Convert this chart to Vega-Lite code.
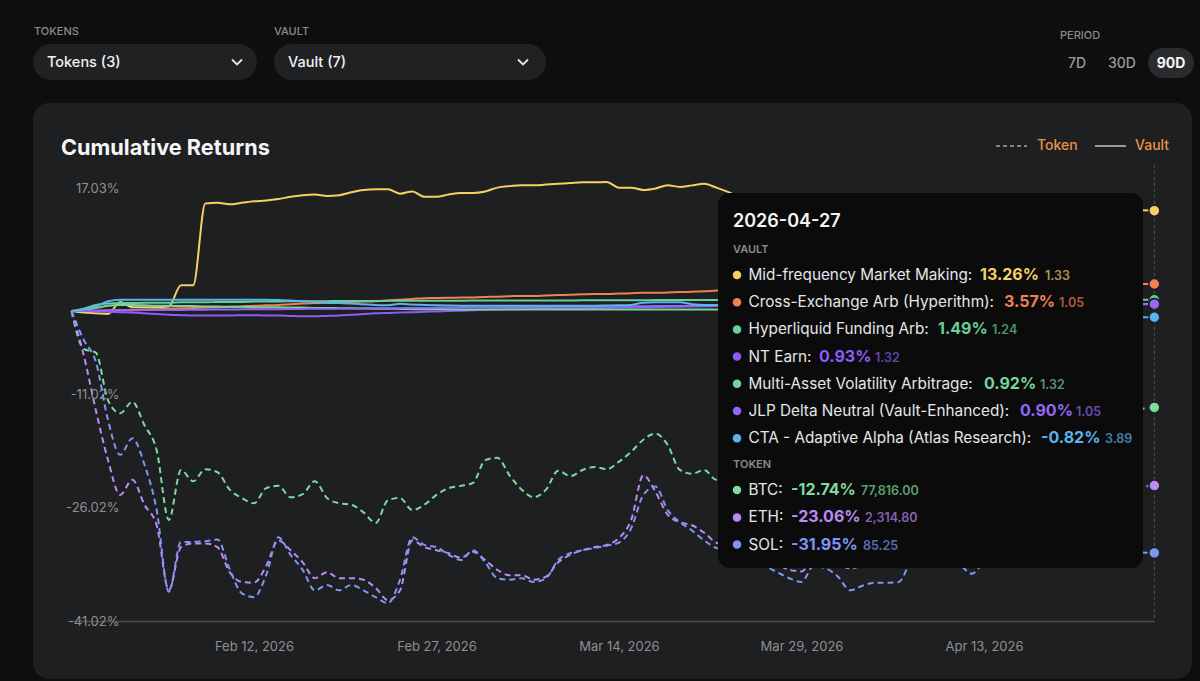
{
  "$schema": "https://vega.github.io/schema/vega-lite/v6.json",
  "width": 1200,
  "height": 681,
  "autosize": "none",
  "padding": 0,
  "background": "#0e0e0f",
  "config": {"view": {"stroke": null}, "font": "Inter"},
  "datasets": {
    "series": [
      {"date":"2026-01-28","MM":0,"CEA":0,"HFA":0,"NT":0,"MAVA":0,"JLP":0,"CTA":0,"BTC":0,"ETH":0,"SOL":0},
      {"date":"2026-01-29","MM":-0.2,"CEA":0.02,"HFA":0.3,"NT":0,"MAVA":0.1,"JLP":0.02,"CTA":0.2,"BTC":-5.0,"ETH":-5.8,"SOL":-3.8},
      {"date":"2026-01-30","MM":-0.3,"CEA":0.05,"HFA":0.8,"NT":-0.05,"MAVA":0.4,"JLP":0.05,"CTA":0.6,"BTC":-5.5,"ETH":-13.1,"SOL":-6.7},
      {"date":"2026-01-31","MM":-0.4,"CEA":0.08,"HFA":1.0,"NT":-0.1,"MAVA":0.7,"JLP":0.08,"CTA":1.3,"BTC":-11.8,"ETH":-19.7,"SOL":-14.4},
      {"date":"2026-02-01","MM":1.2,"CEA":0.1,"HFA":1.05,"NT":-0.15,"MAVA":0.8,"JLP":0.1,"CTA":1.5,"BTC":-13.5,"ETH":-24.3,"SOL":-19.0},
      {"date":"2026-02-02","MM":0.5,"CEA":0.12,"HFA":1.05,"NT":-0.2,"MAVA":0.8,"JLP":0.1,"CTA":1.5,"BTC":-12.0,"ETH":-22.3,"SOL":-16.8},
      {"date":"2026-02-03","MM":0.5,"CEA":0.2,"HFA":1.1,"NT":-0.3,"MAVA":0.75,"JLP":0.12,"CTA":1.5,"BTC":-15.1,"ETH":-25.6,"SOL":-20.3},
      {"date":"2026-02-04","MM":0.5,"CEA":0.25,"HFA":1.1,"NT":-0.4,"MAVA":0.7,"JLP":0.13,"CTA":1.5,"BTC":-18.4,"ETH":-28.3,"SOL":-26.3},
      {"date":"2026-02-05","MM":0.6,"CEA":0.3,"HFA":1.1,"NT":-0.5,"MAVA":0.7,"JLP":0.15,"CTA":1.5,"BTC":-27.6,"ETH":-36.9,"SOL":-37.1},
      {"date":"2026-02-06","MM":3.4,"CEA":0.35,"HFA":1.15,"NT":-0.55,"MAVA":0.65,"JLP":0.15,"CTA":1.5,"BTC":-21.0,"ETH":-31.2,"SOL":-30.5},
      {"date":"2026-02-07","MM":3.4,"CEA":0.4,"HFA":1.15,"NT":-0.6,"MAVA":0.65,"JLP":0.17,"CTA":1.5,"BTC":-22.5,"ETH":-30.7,"SOL":-30.5},
      {"date":"2026-02-08","MM":14.2,"CEA":0.45,"HFA":1.15,"NT":-0.6,"MAVA":0.6,"JLP":0.18,"CTA":1.5,"BTC":-20.9,"ETH":-30.7,"SOL":-30.4},
      {"date":"2026-02-09","MM":14.3,"CEA":0.5,"HFA":1.2,"NT":-0.6,"MAVA":0.6,"JLP":0.2,"CTA":1.5,"BTC":-21.3,"ETH":-31.2,"SOL":-30.2},
      {"date":"2026-02-10","MM":14.1,"CEA":0.55,"HFA":1.2,"NT":-0.6,"MAVA":0.55,"JLP":0.2,"CTA":1.5,"BTC":-23.6,"ETH":-34.5,"SOL":-34.1},
      {"date":"2026-02-11","MM":14.3,"CEA":0.6,"HFA":1.2,"NT":-0.55,"MAVA":0.55,"JLP":0.22,"CTA":1.5,"BTC":-24.7,"ETH":-35.8,"SOL":-37.3},
      {"date":"2026-02-12","MM":14.5,"CEA":0.7,"HFA":1.25,"NT":-0.55,"MAVA":0.5,"JLP":0.23,"CTA":1.5,"BTC":-25.4,"ETH":-35.9,"SOL":-37.8},
      {"date":"2026-02-13","MM":14.6,"CEA":0.75,"HFA":1.25,"NT":-0.6,"MAVA":0.5,"JLP":0.25,"CTA":1.5,"BTC":-23.4,"ETH":-33.7,"SOL":-34.9},
      {"date":"2026-02-14","MM":14.8,"CEA":0.8,"HFA":1.25,"NT":-0.6,"MAVA":0.5,"JLP":0.25,"CTA":1.45,"BTC":-23.1,"ETH":-30.3,"SOL":-29.9},
      {"date":"2026-02-15","MM":15.1,"CEA":0.9,"HFA":1.3,"NT":-0.65,"MAVA":0.45,"JLP":0.27,"CTA":1.4,"BTC":-24.6,"ETH":-31.6,"SOL":-32.2},
      {"date":"2026-02-16","MM":15.3,"CEA":1.0,"HFA":1.3,"NT":-0.7,"MAVA":0.45,"JLP":0.28,"CTA":1.3,"BTC":-24.2,"ETH":-33.2,"SOL":-34.2},
      {"date":"2026-02-17","MM":15.4,"CEA":1.05,"HFA":1.3,"NT":-0.7,"MAVA":0.4,"JLP":0.3,"CTA":1.2,"BTC":-22.5,"ETH":-35.3,"SOL":-36.9},
      {"date":"2026-02-18","MM":15.2,"CEA":1.1,"HFA":1.3,"NT":-0.65,"MAVA":0.4,"JLP":0.3,"CTA":1.1,"BTC":-24.7,"ETH":-34.5,"SOL":-36.2},
      {"date":"2026-02-19","MM":15.3,"CEA":1.15,"HFA":1.32,"NT":-0.6,"MAVA":0.38,"JLP":0.32,"CTA":1.05,"BTC":-25.4,"ETH":-35.3,"SOL":-36.9},
      {"date":"2026-02-20","MM":15.7,"CEA":1.2,"HFA":1.32,"NT":-0.5,"MAVA":0.35,"JLP":0.33,"CTA":1.0,"BTC":-25.6,"ETH":-35.3,"SOL":-36.2},
      {"date":"2026-02-21","MM":16.0,"CEA":1.25,"HFA":1.33,"NT":-0.4,"MAVA":0.33,"JLP":0.35,"CTA":0.9,"BTC":-26.6,"ETH":-35.5,"SOL":-36.9},
      {"date":"2026-02-22","MM":16.1,"CEA":1.3,"HFA":1.33,"NT":-0.3,"MAVA":0.3,"JLP":0.35,"CTA":0.8,"BTC":-28.0,"ETH":-36.6,"SOL":-37.8},
      {"date":"2026-02-23","MM":16.1,"CEA":1.4,"HFA":1.35,"NT":-0.25,"MAVA":0.3,"JLP":0.37,"CTA":0.75,"BTC":-25.0,"ETH":-38.2,"SOL":-38.6},
      {"date":"2026-02-24","MM":15.5,"CEA":1.5,"HFA":1.35,"NT":-0.2,"MAVA":0.28,"JLP":0.38,"CTA":0.95,"BTC":-24.7,"ETH":-36.9,"SOL":-35.5},
      {"date":"2026-02-25","MM":15.8,"CEA":1.6,"HFA":1.35,"NT":-0.15,"MAVA":0.25,"JLP":0.4,"CTA":0.85,"BTC":-26.3,"ETH":-30.3,"SOL":-29.9},
      {"date":"2026-02-26","MM":15.1,"CEA":1.7,"HFA":1.36,"NT":-0.1,"MAVA":0.25,"JLP":0.4,"CTA":0.8,"BTC":-25.6,"ETH":-31.2,"SOL":-30.9},
      {"date":"2026-02-27","MM":15.1,"CEA":1.72,"HFA":1.36,"NT":-0.05,"MAVA":0.22,"JLP":0.42,"CTA":0.75,"BTC":-24.3,"ETH":-31.6,"SOL":-31.2},
      {"date":"2026-02-28","MM":15.4,"CEA":1.75,"HFA":1.37,"NT":0,"MAVA":0.22,"JLP":0.43,"CTA":0.72,"BTC":-23.4,"ETH":-32.0,"SOL":-32.2},
      {"date":"2026-03-01","MM":15.6,"CEA":1.78,"HFA":1.37,"NT":0.05,"MAVA":0.2,"JLP":0.45,"CTA":0.7,"BTC":-23.1,"ETH":-32.6,"SOL":-32.9},
      {"date":"2026-03-02","MM":15.6,"CEA":1.8,"HFA":1.38,"NT":0.1,"MAVA":0.2,"JLP":0.45,"CTA":0.7,"BTC":-22.7,"ETH":-31.8,"SOL":-31.6},
      {"date":"2026-03-03","MM":15.8,"CEA":1.85,"HFA":1.38,"NT":0.15,"MAVA":0.2,"JLP":0.47,"CTA":0.7,"BTC":-19.7,"ETH":-32.9,"SOL":-33.2},
      {"date":"2026-03-04","MM":16.3,"CEA":1.9,"HFA":1.38,"NT":0.2,"MAVA":0.2,"JLP":0.48,"CTA":0.7,"BTC":-19.4,"ETH":-34.2,"SOL":-35.3},
      {"date":"2026-03-05","MM":16.5,"CEA":1.95,"HFA":1.39,"NT":0.22,"MAVA":0.2,"JLP":0.5,"CTA":0.7,"BTC":-21.7,"ETH":-34.9,"SOL":-35.5},
      {"date":"2026-03-06","MM":16.6,"CEA":2.0,"HFA":1.39,"NT":0.25,"MAVA":0.2,"JLP":0.5,"CTA":0.7,"BTC":-23.6,"ETH":-34.9,"SOL":-35.3},
      {"date":"2026-03-07","MM":16.6,"CEA":2.0,"HFA":1.4,"NT":0.28,"MAVA":0.2,"JLP":0.52,"CTA":0.7,"BTC":-24.6,"ETH":-35.5,"SOL":-35.8},
      {"date":"2026-03-08","MM":16.7,"CEA":2.05,"HFA":1.4,"NT":0.3,"MAVA":0.2,"JLP":0.53,"CTA":0.7,"BTC":-23.6,"ETH":-35.1,"SOL":-35.3},
      {"date":"2026-03-09","MM":16.8,"CEA":2.1,"HFA":1.4,"NT":0.32,"MAVA":0.2,"JLP":0.55,"CTA":0.7,"BTC":-21.1,"ETH":-33.2,"SOL":-32.9},
      {"date":"2026-03-10","MM":16.9,"CEA":2.15,"HFA":1.4,"NT":0.35,"MAVA":0.2,"JLP":0.55,"CTA":0.7,"BTC":-21.8,"ETH":-32.2,"SOL":-32.0},
      {"date":"2026-03-11","MM":17.0,"CEA":2.2,"HFA":1.41,"NT":0.38,"MAVA":0.2,"JLP":0.57,"CTA":0.7,"BTC":-21.0,"ETH":-31.6,"SOL":-31.6},
      {"date":"2026-03-12","MM":17.0,"CEA":2.25,"HFA":1.41,"NT":0.4,"MAVA":0.2,"JLP":0.58,"CTA":0.7,"BTC":-20.6,"ETH":-31.2,"SOL":-31.3},
      {"date":"2026-03-13","MM":17.03,"CEA":2.25,"HFA":1.42,"NT":0.42,"MAVA":0.2,"JLP":0.6,"CTA":0.72,"BTC":-20.9,"ETH":-30.9,"SOL":-31.0},
      {"date":"2026-03-14","MM":16.3,"CEA":2.3,"HFA":1.42,"NT":0.45,"MAVA":0.2,"JLP":0.6,"CTA":0.75,"BTC":-19.9,"ETH":-30.0,"SOL":-30.6},
      {"date":"2026-03-15","MM":16.3,"CEA":2.35,"HFA":1.43,"NT":0.48,"MAVA":0.2,"JLP":0.62,"CTA":0.8,"BTC":-18.6,"ETH":-27.6,"SOL":-28.7},
      {"date":"2026-03-16","MM":16.0,"CEA":2.4,"HFA":1.43,"NT":0.5,"MAVA":0.2,"JLP":0.63,"CTA":1.1,"BTC":-17.0,"ETH":-21.7,"SOL":-24.3},
      {"date":"2026-03-17","MM":16.2,"CEA":2.4,"HFA":1.44,"NT":0.52,"MAVA":0.2,"JLP":0.65,"CTA":1.15,"BTC":-16.2,"ETH":-23.9,"SOL":-23.2},
      {"date":"2026-03-18","MM":16.6,"CEA":2.45,"HFA":1.44,"NT":0.55,"MAVA":0.2,"JLP":0.65,"CTA":1.15,"BTC":-17.7,"ETH":-26.9,"SOL":-26.3},
      {"date":"2026-03-19","MM":16.4,"CEA":2.5,"HFA":1.45,"NT":0.57,"MAVA":0.2,"JLP":0.67,"CTA":1.15,"BTC":-21.0,"ETH":-27.9,"SOL":-27.9},
      {"date":"2026-03-20","MM":16.6,"CEA":2.55,"HFA":1.45,"NT":0.6,"MAVA":0.2,"JLP":0.68,"CTA":0.9,"BTC":-21.5,"ETH":-28.3,"SOL":-29.0},
      {"date":"2026-03-21","MM":16.8,"CEA":2.6,"HFA":1.45,"NT":0.62,"MAVA":0.2,"JLP":0.7,"CTA":0.8,"BTC":-21.0,"ETH":-29.3,"SOL":-30.3},
      {"date":"2026-03-22","MM":16.3,"CEA":2.7,"HFA":1.46,"NT":0.65,"MAVA":0.2,"JLP":0.7,"CTA":0.8,"BTC":-22.3,"ETH":-30.6,"SOL":-31.3},
      {"date":"2026-03-23","MM":15.7,"CEA":2.75,"HFA":1.46,"NT":0.67,"MAVA":0.22,"JLP":0.72,"CTA":0.75,"BTC":-22.0,"ETH":-31.0,"SOL":-31.6},
      {"date":"2026-03-24","MM":15.0,"CEA":2.8,"HFA":1.46,"NT":0.7,"MAVA":0.25,"JLP":0.72,"CTA":0.7,"BTC":-21.5,"ETH":-31.5,"SOL":-32.2},
      {"date":"2026-03-25","MM":14.8,"CEA":2.8,"HFA":1.46,"NT":0.7,"MAVA":0.28,"JLP":0.73,"CTA":0.6,"BTC":-21.0,"ETH":-32.0,"SOL":-32.9},
      {"date":"2026-03-26","MM":14.9,"CEA":2.85,"HFA":1.47,"NT":0.72,"MAVA":0.3,"JLP":0.74,"CTA":0.5,"BTC":-20.5,"ETH":-32.6,"SOL":-33.7},
      {"date":"2026-03-27","MM":14.7,"CEA":2.9,"HFA":1.47,"NT":0.73,"MAVA":0.33,"JLP":0.75,"CTA":0.4,"BTC":-20.8,"ETH":-33.4,"SOL":-34.5},
      {"date":"2026-03-28","MM":14.5,"CEA":2.9,"HFA":1.47,"NT":0.74,"MAVA":0.36,"JLP":0.76,"CTA":0.3,"BTC":-21.2,"ETH":-34.2,"SOL":-35.3},
      {"date":"2026-03-29","MM":14.6,"CEA":2.95,"HFA":1.47,"NT":0.75,"MAVA":0.4,"JLP":0.77,"CTA":0.2,"BTC":-20.6,"ETH":-34.4,"SOL":-35.8},
      {"date":"2026-03-30","MM":14.8,"CEA":3.0,"HFA":1.47,"NT":0.76,"MAVA":0.43,"JLP":0.78,"CTA":0.1,"BTC":-19.8,"ETH":-32.8,"SOL":-33.7},
      {"date":"2026-03-31","MM":14.6,"CEA":3.0,"HFA":1.47,"NT":0.77,"MAVA":0.46,"JLP":0.78,"CTA":0.0,"BTC":-19.5,"ETH":-32.9,"SOL":-34.0},
      {"date":"2026-04-01","MM":14.3,"CEA":3.05,"HFA":1.48,"NT":0.78,"MAVA":0.5,"JLP":0.79,"CTA":-0.1,"BTC":-19.9,"ETH":-33.4,"SOL":-35.1},
      {"date":"2026-04-02","MM":14.1,"CEA":3.1,"HFA":1.48,"NT":0.79,"MAVA":0.53,"JLP":0.8,"CTA":-0.2,"BTC":-20.4,"ETH":-34.0,"SOL":-36.9},
      {"date":"2026-04-03","MM":14.3,"CEA":3.1,"HFA":1.48,"NT":0.8,"MAVA":0.56,"JLP":0.8,"CTA":-0.25,"BTC":-19.7,"ETH":-33.6,"SOL":-36.3},
      {"date":"2026-04-04","MM":14.5,"CEA":3.15,"HFA":1.48,"NT":0.81,"MAVA":0.6,"JLP":0.81,"CTA":-0.3,"BTC":-19.0,"ETH":-33.0,"SOL":-35.9},
      {"date":"2026-04-05","MM":14.6,"CEA":3.2,"HFA":1.48,"NT":0.82,"MAVA":0.63,"JLP":0.82,"CTA":-0.35,"BTC":-18.4,"ETH":-32.5,"SOL":-35.9},
      {"date":"2026-04-06","MM":14.4,"CEA":3.2,"HFA":1.48,"NT":0.83,"MAVA":0.66,"JLP":0.83,"CTA":-0.4,"BTC":-18.8,"ETH":-32.2,"SOL":-35.8},
      {"date":"2026-04-07","MM":14.2,"CEA":3.25,"HFA":1.48,"NT":0.84,"MAVA":0.7,"JLP":0.84,"CTA":-0.45,"BTC":-17.9,"ETH":-30.5,"SOL":-33.3},
      {"date":"2026-04-08","MM":14.0,"CEA":3.3,"HFA":1.48,"NT":0.85,"MAVA":0.72,"JLP":0.85,"CTA":-0.5,"BTC":-17.2,"ETH":-29.8,"SOL":-32.9},
      {"date":"2026-04-09","MM":14.2,"CEA":3.3,"HFA":1.48,"NT":0.86,"MAVA":0.74,"JLP":0.85,"CTA":-0.55,"BTC":-16.8,"ETH":-29.4,"SOL":-32.2},
      {"date":"2026-04-10","MM":14.4,"CEA":3.35,"HFA":1.49,"NT":0.86,"MAVA":0.76,"JLP":0.86,"CTA":-0.6,"BTC":-17.3,"ETH":-29.9,"SOL":-32.6},
      {"date":"2026-04-11","MM":14.3,"CEA":3.35,"HFA":1.49,"NT":0.87,"MAVA":0.78,"JLP":0.86,"CTA":-0.62,"BTC":-17.9,"ETH":-30.6,"SOL":-33.5},
      {"date":"2026-04-12","MM":14.1,"CEA":3.4,"HFA":1.49,"NT":0.88,"MAVA":0.8,"JLP":0.87,"CTA":-0.65,"BTC":-18.3,"ETH":-31.5,"SOL":-34.7},
      {"date":"2026-04-13","MM":13.9,"CEA":3.4,"HFA":1.49,"NT":0.88,"MAVA":0.82,"JLP":0.87,"CTA":-0.67,"BTC":-17.6,"ETH":-30.2,"SOL":-33.2},
      {"date":"2026-04-14","MM":14.0,"CEA":3.42,"HFA":1.49,"NT":0.89,"MAVA":0.83,"JLP":0.88,"CTA":-0.7,"BTC":-16.9,"ETH":-29.1,"SOL":-32.6},
      {"date":"2026-04-15","MM":14.2,"CEA":3.45,"HFA":1.49,"NT":0.89,"MAVA":0.84,"JLP":0.88,"CTA":-0.72,"BTC":-16.2,"ETH":-28.4,"SOL":-32.4},
      {"date":"2026-04-16","MM":14.0,"CEA":3.45,"HFA":1.49,"NT":0.9,"MAVA":0.85,"JLP":0.88,"CTA":-0.73,"BTC":-15.8,"ETH":-27.8,"SOL":-32.8},
      {"date":"2026-04-17","MM":13.8,"CEA":3.48,"HFA":1.49,"NT":0.9,"MAVA":0.86,"JLP":0.89,"CTA":-0.75,"BTC":-15.4,"ETH":-27.0,"SOL":-33.1},
      {"date":"2026-04-18","MM":13.9,"CEA":3.5,"HFA":1.49,"NT":0.9,"MAVA":0.87,"JLP":0.89,"CTA":-0.76,"BTC":-15.0,"ETH":-26.4,"SOL":-32.7},
      {"date":"2026-04-19","MM":14.0,"CEA":3.5,"HFA":1.49,"NT":0.91,"MAVA":0.88,"JLP":0.89,"CTA":-0.77,"BTC":-14.6,"ETH":-25.9,"SOL":-32.3},
      {"date":"2026-04-20","MM":13.8,"CEA":3.52,"HFA":1.49,"NT":0.91,"MAVA":0.88,"JLP":0.9,"CTA":-0.78,"BTC":-14.9,"ETH":-25.5,"SOL":-32.6},
      {"date":"2026-04-21","MM":13.6,"CEA":3.53,"HFA":1.49,"NT":0.92,"MAVA":0.89,"JLP":0.9,"CTA":-0.79,"BTC":-14.2,"ETH":-24.8,"SOL":-32.9},
      {"date":"2026-04-22","MM":13.7,"CEA":3.54,"HFA":1.49,"NT":0.92,"MAVA":0.9,"JLP":0.9,"CTA":-0.8,"BTC":-13.8,"ETH":-24.3,"SOL":-32.5},
      {"date":"2026-04-23","MM":13.5,"CEA":3.55,"HFA":1.49,"NT":0.92,"MAVA":0.9,"JLP":0.9,"CTA":-0.8,"BTC":-13.5,"ETH":-24.0,"SOL":-32.2},
      {"date":"2026-04-24","MM":13.4,"CEA":3.56,"HFA":1.49,"NT":0.93,"MAVA":0.91,"JLP":0.9,"CTA":-0.81,"BTC":-13.2,"ETH":-23.6,"SOL":-32.0},
      {"date":"2026-04-25","MM":13.3,"CEA":3.56,"HFA":1.49,"NT":0.93,"MAVA":0.91,"JLP":0.9,"CTA":-0.81,"BTC":-13.0,"ETH":-23.4,"SOL":-31.8},
      {"date":"2026-04-26","MM":13.3,"CEA":3.57,"HFA":1.49,"NT":0.93,"MAVA":0.92,"JLP":0.9,"CTA":-0.82,"BTC":-12.9,"ETH":-23.2,"SOL":-31.9},
      {"date":"2026-04-27","MM":13.26,"CEA":3.57,"HFA":1.49,"NT":0.93,"MAVA":0.92,"JLP":0.9,"CTA":-0.82,"BTC":-12.74,"ETH":-23.06,"SOL":-31.95}
    ],
    "tip": [
      {"s":"MM","label":"Mid-frequency Market Making:","val":"13.26%","sub":"1.33","row":4.76,"at_v":"2026-04-12T16:06:00Z","at_s":"2026-04-18T00:20:00Z"},
      {"s":"CEA","label":"Cross-Exchange Arb (Hyperithm):","val":"3.57%","sub":"1.05","row":1.16,"at_v":"2026-04-14T15:27:00Z","at_s":"2026-04-19T03:56:00Z"},
      {"s":"HFA","label":"Hyperliquid Funding Arb:","val":"1.49%","sub":"1.24","row":-2.43,"at_v":"2026-04-09T05:15:00Z","at_s":"2026-04-13T15:47:00Z"},
      {"s":"NT","label":"NT Earn:","val":"0.93%","sub":"1.32","row":-6.02,"at_v":"2026-03-30T10:31:00Z","at_s":"2026-04-04T00:59:00Z"},
      {"s":"MAVA","label":"Multi-Asset Volatility Arbitrage:","val":"0.92%","sub":"1.32","row":-9.62,"at_v":"2026-04-13T00:00:00Z","at_s":"2026-04-17T14:28:00Z"},
      {"s":"JLP","label":"JLP Delta Neutral (Vault-Enhanced):","val":"0.90%","sub":"1.05","row":-13.21,"at_v":"2026-04-15T23:01:00Z","at_s":"2026-04-20T13:29:00Z"},
      {"s":"CTA","label":"CTA - Adaptive Alpha (Atlas Research):","val":"-0.82%","sub":"3.89","row":-16.81,"at_v":"2026-04-17T16:26:00Z","at_s":"2026-04-22T22:41:00Z"},
      {"s":"BTC","label":"BTC:","val":"-12.74%","sub":"77,816.00","row":-23.65,"at_v":"2026-03-28T03:17:00Z","at_s":"2026-04-02T21:22:00Z"},
      {"s":"ETH","label":"ETH:","val":"-23.06%","sub":"2,314.80","row":-27.27,"at_v":"2026-03-28T03:17:00Z","at_s":"2026-04-03T05:15:00Z"},
      {"s":"SOL","label":"SOL:","val":"-31.95%","sub":"85.25","row":-30.86,"at_v":"2026-03-28T03:17:00Z","at_s":"2026-04-03T01:19:00Z"}
    ]
  },
  "layer": [
    {
      "data": {"values": [{"t": "2026-01-24T20:04:00Z", "t2": "2026-04-30T02:14:00Z", "v": 27.48, "v2": -48.62}]},
      "mark": {"type": "rect", "fill": "#1e1f21", "cornerRadius": 16},
      "encoding": {
        "x": {"field": "t", "type": "temporal", "title": null,
          "scale": {"type": "utc", "nice": false, "domain": [{"year": 2026, "month": 1, "date": 22, "hours": 2, "minutes": 57, "utc": true}, {"year": 2026, "month": 4, "date": 30, "hours": 18, "minutes": 3, "utc": true}]},
          "axis": {"orient": "bottom", "offset": -59, "zindex": 1, "domain": false, "ticks": false, "tickSize": 0, "grid": false, "labelPadding": 18, "labelColor": "#8e8f92", "labelFont": "Inter", "labelFontSize": 13, "labelOverlap": false, "labelFlush": false,
            "values": [{"year": 2026, "month": 2, "date": 12, "utc": true}, {"year": 2026, "month": 2, "date": 27, "utc": true}, {"year": 2026, "month": 3, "date": 14, "utc": true}, {"year": 2026, "month": 3, "date": 29, "utc": true}, {"year": 2026, "month": 4, "date": 13, "utc": true}],
            "labelExpr": "utcFormat(datum.value, '%b %d, %Y')"}},
        "x2": {"field": "t2"},
        "y": {"field": "v", "type": "quantitative", "title": null,
          "scale": {"domain": [-48.88, 41.09], "nice": false, "zero": false},
          "axis": {"orient": "left", "offset": -125, "zindex": 1, "domain": false, "ticks": false, "tickSize": 0, "grid": false, "labelPadding": 6, "labelAlign": "right", "labelColor": "#8e8f92", "labelFont": "Inter", "labelFontSize": 13, "labelOverlap": false, "labelFlush": false,
            "values": [17.03, -11.02, -26.02, -41.02],
            "labelBaseline": {"condition": {"test": "datum.value > 17", "value": "top"}, "value": "middle"},
            "labelExpr": "(datum.value < 0 ? '-' : '') + format(abs(datum.value), '.2f') + '%'"}},
        "y2": {"field": "v2"}
      }
    },
    {
      "data": {"values": [
        {"t": "2026-01-24T20:04:00Z", "t2": "2026-02-12T05:56:00Z", "v": 35.27, "v2": 30.52},
        {"t": "2026-02-13T15:27:00Z", "t2": "2026-03-08T00:00:00Z", "v": 35.27, "v2": 30.52}
      ]},
      "mark": {"type": "rect", "fill": "#202123", "cornerRadius": 18},
      "encoding": {"x": {"field": "t", "type": "temporal", "title": null}, "x2": {"field": "t2"}, "y": {"field": "v", "type": "quantitative", "title": null}, "y2": {"field": "v2"}}
    },
    {
      "data": {"values": [{"t": "2026-04-26T11:28:00Z", "t2": "2026-04-30T06:12:00Z", "v": 34.74, "v2": 30.78}]},
      "mark": {"type": "rect", "fill": "#2a2b2e", "cornerRadius": 15},
      "encoding": {"x": {"field": "t", "type": "temporal", "title": null}, "x2": {"field": "t2"}, "y": {"field": "v", "type": "quantitative", "title": null}, "y2": {"field": "v2"}}
    },
    {
      "data": {"values": [{"t": "2026-01-28", "t2": "2026-04-27", "v": -41.02}]},
      "mark": {"type": "rule", "color": "#4b4c4f", "strokeWidth": 1.5},
      "encoding": {"x": {"field": "t", "type": "temporal", "title": null}, "x2": {"field": "t2"}, "y": {"field": "v", "type": "quantitative", "title": null}}
    },
    {
      "data": {"values": [{"t": "2026-04-27", "v": 19.3, "v2": -41.02}]},
      "mark": {"type": "rule", "color": "#55565a", "strokeWidth": 1, "strokeDash": [3, 3]},
      "encoding": {"x": {"field": "t", "type": "temporal", "title": null}, "y": {"field": "v", "type": "quantitative", "title": null}, "y2": {"field": "v2"}}
    },
    {
      "data": {"name": "series"},
      "transform": [{"fold": ["MM", "CEA", "HFA", "NT", "MAVA", "JLP", "CTA"], "as": ["s", "v"]}],
      "mark": {"type": "line", "strokeWidth": 2, "interpolate": "monotone"},
      "encoding": {
        "x": {"field": "date", "type": "temporal", "title": null},
        "y": {"field": "v", "type": "quantitative", "title": null},
        "color": {"field": "s", "type": "nominal", "legend": null,
          "scale": {"domain": ["MM", "CEA", "HFA", "NT", "MAVA", "JLP", "CTA", "BTC", "ETH", "SOL"],
                    "range": ["#f3d163", "#ef8250", "#67cf97", "#8b5cf6", "#79d39d", "#9467f6", "#5ab4ef", "#7edb9c", "#bb8af5", "#7d97f4"]}}
      }
    },
    {
      "data": {"name": "series"},
      "transform": [{"fold": ["BTC", "ETH", "SOL"], "as": ["s", "v"]}],
      "mark": {"type": "line", "strokeWidth": 2, "strokeDash": [6, 4], "interpolate": "monotone"},
      "encoding": {
        "x": {"field": "date", "type": "temporal", "title": null},
        "y": {"field": "v", "type": "quantitative", "title": null},
        "color": {"field": "s", "type": "nominal", "legend": null}
      }
    },
    {
      "data": {"name": "series"},
      "transform": [
        {"fold": ["MM", "CEA", "HFA", "NT", "MAVA", "JLP", "CTA", "BTC", "ETH", "SOL"], "as": ["s", "v"]},
        {"filter": "time(datum.date) == utc(2026, 3, 27)"}
      ],
      "mark": {"type": "point", "shape": "circle", "filled": true, "size": 120, "opacity": 1, "stroke": "#1e1f21", "strokeWidth": 1.5},
      "encoding": {
        "x": {"field": "date", "type": "temporal", "title": null},
        "y": {"field": "v", "type": "quantitative", "title": null},
        "fill": {"field": "s", "type": "nominal", "legend": null, "scale": {"domain": ["MM", "CEA", "HFA", "NT", "MAVA", "JLP", "CTA", "BTC", "ETH", "SOL"], "range": ["#f3d163", "#ef8250", "#67cf97", "#8b5cf6", "#79d39d", "#9467f6", "#5ab4ef", "#7edb9c", "#bb8af5", "#7d97f4"]}}
      }
    },
    {
      "data": {"values": [{"t": "2026-03-22T03:17:00Z", "t2": "2026-04-26T01:38:00Z", "v": 15.59, "v2": -33.95}]},
      "mark": {"type": "rect", "fill": "#0b0b0c", "cornerRadius": 12},
      "encoding": {"x": {"field": "t", "type": "temporal", "title": null}, "x2": {"field": "t2"}, "y": {"field": "v", "type": "quantitative", "title": null}, "y2": {"field": "v2"}}
    },
    {
      "data": {"name": "tip"},
      "mark": {"type": "point", "shape": "circle", "filled": true, "size": 72, "opacity": 1},
      "encoding": {
        "x": {"datum": {"year": 2026, "month": 3, "date": 23, "hours": 16, "minutes": 47, "utc": true}, "type": "temporal"},
        "y": {"field": "row", "type": "quantitative", "title": null},
        "fill": {"field": "s", "type": "nominal", "legend": null}
      }
    },
    {
      "data": {"name": "tip"},
      "mark": {"type": "text", "align": "left", "baseline": "middle", "font": "Inter", "fontSize": 15.3, "color": "#e6e6e7"},
      "encoding": {
        "x": {"datum": {"year": 2026, "month": 3, "date": 24, "hours": 15, "minutes": 27, "utc": true}, "type": "temporal"},
        "y": {"field": "row", "type": "quantitative", "title": null},
        "text": {"field": "label"}
      }
    },
    {
      "data": {"name": "tip"},
      "mark": {"type": "text", "align": "left", "baseline": "middle", "font": "Inter", "fontSize": 16, "fontWeight": 700},
      "encoding": {
        "x": {"field": "at_v", "type": "temporal", "title": null},
        "y": {"field": "row", "type": "quantitative", "title": null},
        "text": {"field": "val"},
        "color": {"field": "s", "type": "nominal", "legend": null}
      }
    },
    {
      "data": {"name": "tip"},
      "mark": {"type": "text", "align": "left", "baseline": "middle", "font": "Inter", "fontSize": 12.5, "fontWeight": 600, "opacity": 0.7, "dy": 1},
      "encoding": {
        "x": {"field": "at_s", "type": "temporal", "title": null},
        "y": {"field": "row", "type": "quantitative", "title": null},
        "text": {"field": "sub"},
        "color": {"field": "s", "type": "nominal", "legend": null}
      }
    },
    {
      "data": {"values": [{"t": "2026-03-23T08:53:00Z", "v": 11.76, "label": "2026-04-27"}]},
      "mark": {"type": "text", "align": "left", "baseline": "middle", "font": "Inter", "fontSize": 18, "fontWeight": 600, "color": "#f4f4f5"},
      "encoding": {"x": {"field": "t", "type": "temporal", "title": null}, "y": {"field": "v", "type": "quantitative", "title": null}, "text": {"field": "label"}}
    },
    {
      "data": {"values": [{"t": "2026-03-23T08:53:00Z", "v": 8.06, "label": "VAULT"}, {"t": "2026-03-23T08:53:00Z", "v": -20.35, "label": "TOKEN"}]},
      "mark": {"type": "text", "align": "left", "baseline": "middle", "font": "Inter", "fontSize": 11, "fontWeight": 600, "color": "#8a8b8e"},
      "encoding": {"x": {"field": "t", "type": "temporal", "title": null}, "y": {"field": "v", "type": "quantitative", "title": null}, "text": {"field": "label"}}
    },
    {
      "data": {"values": [{"t": "2026-01-27T03:17:00Z", "v": 21.6, "label": "Cumulative Returns"}]},
      "mark": {"type": "text", "align": "left", "baseline": "middle", "font": "Inter", "fontSize": 21.7, "fontWeight": 700, "color": "#f5f5f5"},
      "encoding": {"x": {"field": "t", "type": "temporal", "title": null}, "y": {"field": "v", "type": "quantitative", "title": null}, "text": {"field": "label"}}
    },
    {
      "data": {"values": [{"t": "2026-04-13T23:40:00Z", "t2": "2026-04-16T12:49:00Z", "v": 21.8}]},
      "mark": {"type": "rule", "color": "#a6a7aa", "strokeWidth": 1.5, "strokeDash": [4, 3]},
      "encoding": {"x": {"field": "t", "type": "temporal", "title": null}, "x2": {"field": "t2"}, "y": {"field": "v", "type": "quantitative", "title": null}}
    },
    {
      "data": {"values": [{"t": "2026-04-22T02:57:00Z", "t2": "2026-04-24T16:06:00Z", "v": 21.8}]},
      "mark": {"type": "rule", "color": "#c4c5c8", "strokeWidth": 1.5},
      "encoding": {"x": {"field": "t", "type": "temporal", "title": null}, "x2": {"field": "t2"}, "y": {"field": "v", "type": "quantitative", "title": null}}
    },
    {
      "data": {"values": [{"t": "2026-04-17T08:33:00Z", "v": 21.8, "label": "Token"}, {"t": "2026-04-25T09:52:00Z", "v": 21.8, "label": "Vault"}]},
      "mark": {"type": "text", "align": "left", "baseline": "middle", "font": "Inter", "fontSize": 14, "fontWeight": 500, "color": "#e9914a"},
      "encoding": {"x": {"field": "t", "type": "temporal", "title": null}, "y": {"field": "v", "type": "quantitative", "title": null}, "text": {"field": "label"}}
    },
    {
      "data": {"values": [{"t": "2026-01-24T22:02:00Z", "v": 36.85, "label": "TOKENS"}, {"t": "2026-02-13T15:27:00Z", "v": 36.85, "label": "VAULT"}, {"t": "2026-04-19T05:51:00Z", "v": 36.35, "label": "PERIOD"}]},
      "mark": {"type": "text", "align": "left", "baseline": "middle", "font": "Inter", "fontSize": 11, "fontWeight": 500, "color": "#8b8c8f"},
      "encoding": {"x": {"field": "t", "type": "temporal", "title": null}, "y": {"field": "v", "type": "quantitative", "title": null}, "text": {"field": "label"}}
    },
    {
      "data": {"values": [{"t": "2026-01-25T23:40:00Z", "v": 32.8, "label": "Tokens (3)"}, {"t": "2026-02-14T19:05:00Z", "v": 32.8, "label": "Vault (7)"}]},
      "mark": {"type": "text", "align": "left", "baseline": "middle", "font": "Inter", "fontSize": 14.5, "fontWeight": 500, "color": "#f2f2f3"},
      "encoding": {"x": {"field": "t", "type": "temporal", "title": null}, "y": {"field": "v", "type": "quantitative", "title": null}, "text": {"field": "label"}}
    },
    {
      "data": {"values": [{"t": "2026-02-10T14:28:00Z", "v": 32.9}, {"t": "2026-03-06T02:38:00Z", "v": 32.9}]},
      "mark": {"type": "point", "shape": "M-1,-0.5L0,0.5L1,-0.5", "filled": false, "size": 100, "stroke": "#e6e6e7", "strokeWidth": 1.8, "opacity": 1},
      "encoding": {"x": {"field": "t", "type": "temporal", "title": null}, "y": {"field": "v", "type": "quantitative", "title": null}}
    },
    {
      "data": {"values": [{"t": "2026-04-20T15:23:00Z", "v": 32.7, "label": "7D"}, {"t": "2026-04-24T08:10:00Z", "v": 32.7, "label": "30D"}]},
      "mark": {"type": "text", "align": "center", "baseline": "middle", "font": "Inter", "fontSize": 14, "fontWeight": 500, "color": "#9a9b9e"},
      "encoding": {"x": {"field": "t", "type": "temporal", "title": null}, "y": {"field": "v", "type": "quantitative", "title": null}, "text": {"field": "label"}}
    },
    {
      "data": {"values": [{"t": "2026-04-28T08:50:00Z", "v": 32.7, "label": "90D"}]},
      "mark": {"type": "text", "align": "center", "baseline": "middle", "font": "Inter", "fontSize": 14, "fontWeight": 700, "color": "#f5f5f5"},
      "encoding": {"x": {"field": "t", "type": "temporal", "title": null}, "y": {"field": "v", "type": "quantitative", "title": null}, "text": {"field": "label"}}
    }
  ]
}
